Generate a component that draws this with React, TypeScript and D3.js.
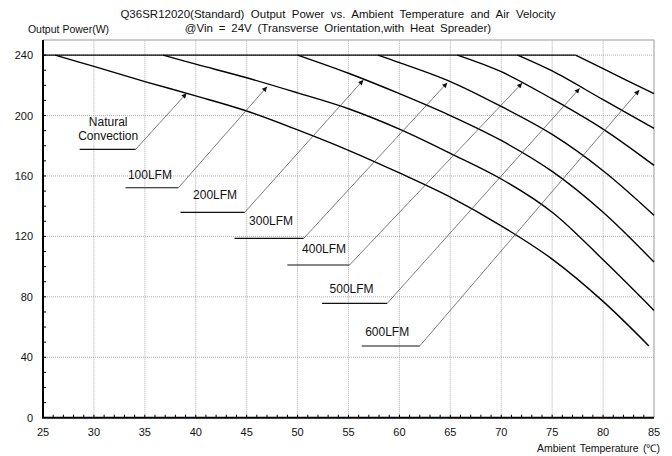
import React, { useEffect, useRef } from 'react';
import * as d3 from 'd3';

// derating curves, [ambient temp (°C), output power (W)]
const natural: [number, number][] = [[26.2, 240], [30, 232.5], [35, 222.5], [40, 213], [45, 203], [50, 190.5], [55, 177], [60, 162], [65, 146], [70, 127], [75, 105], [80, 77], [84.5, 47.5]];
const lfm100: [number, number][] = [[36.8, 240], [40, 234], [45, 225], [50, 215], [55, 204.5], [60, 191], [65, 175], [70, 158], [75, 136], [80, 104.5], [85, 71]];
const lfm200: [number, number][] = [[50, 240], [55, 228], [60, 214.5], [65, 200], [70, 183.5], [75, 163], [80, 136], [85, 103]];
const lfm300: [number, number][] = [[57.9, 240], [60, 235], [65, 222.5], [70, 206], [75, 187.5], [80, 163.5], [85, 134]];
const lfm400: [number, number][] = [[65.7, 240], [70, 229], [75, 211], [80, 191], [85, 167]];
const lfm500: [number, number][] = [[71.6, 240], [75, 229.5], [80, 210.5], [85, 191.5]];
const lfm600: [number, number][] = [[77.3, 240], [80, 231], [85, 214.5]];
const series = [natural, lfm100, lfm200, lfm300, lfm400, lfm500, lfm600];

const maxPower = 240;
const xTicks = [25, 30, 35, 40, 45, 50, 55, 60, 65, 70, 75, 80, 85];
const yTicks = [0, 40, 80, 120, 160, 200, 240];

// labels: text position, underline start/end, arrow tip (data units)
const labelText = [['Natural', 'Convection'], ['100LFM'], ['200LFM'], ['300LFM'], ['400LFM'], ['500LFM'], ['600LFM']];
const labelPos: [number, number][] = [[31.4, 191], [35.5, 160.5], [41.9, 147.4], [47.4, 130.4], [52.6, 111.4], [55.3, 85.2], [58.8, 56.9]];
const underline: [number, number, number][] = [[28.6, 34.1, 177.6], [33.1, 38.3, 152.2], [38.5, 44.8, 135.9], [43.8, 50.6, 118.7], [49.0, 55.1, 101.1], [52.4, 58.8, 75.7], [56.3, 62.0, 47.5]];
const arrowTip: [number, number][] = [[39.1, 214.7], [47.0, 219.1], [56.45, 223.5], [64.7, 221.7], [72.05, 221.5], [77.7, 218], [83.55, 216.9]];

const W = 672;
const H = 456;
const font = '"Liberation Sans", Arial, sans-serif';

const App: React.FC = () => {
  const svgRef = useRef<SVGSVGElement>(null);

  useEffect(() => {
    if (!svgRef.current) return;
    const svg = d3.select(svgRef.current);
    svg.selectAll('*').remove();

    svg.append('rect').attr('width', W).attr('height', H).attr('fill', 'white');

    const x = d3.scaleLinear().domain([25, 85]).range([43, 654]);
    const y = d3.scaleLinear().domain([0, 250]).range([417.7, 40]);

    svg.append('defs').append('marker')
      .attr('id', 'tip')
      .attr('viewBox', '0 0 10 10')
      .attr('refX', 10).attr('refY', 5)
      .attr('markerWidth', 7).attr('markerHeight', 5)
      .attr('markerUnits', 'userSpaceOnUse')
      .attr('orient', 'auto')
      .append('path').attr('d', 'M0,0L10,5L0,10z').attr('fill', '#111');

    // grid
    const grid = svg.append('g').attr('stroke', '#999').attr('stroke-width', 0.8).attr('stroke-dasharray', '1,1');
    grid.selectAll('line.v').data(xTicks.slice(1, -1)).join('line')
      .attr('x1', d => x(d)).attr('x2', d => x(d)).attr('y1', y(0)).attr('y2', y(250));
    grid.selectAll('line.h').data(yTicks.slice(1)).join('line')
      .attr('x1', x(25)).attr('x2', x(85)).attr('y1', d => y(d)).attr('y2', d => y(d));

    // frame top / right
    svg.append('path')
      .attr('d', `M${x(25)},${y(250)}H${x(85)}V${y(0)}`)
      .attr('fill', 'none').attr('stroke', '#999').attr('stroke-width', 1);

    // minor ticks
    const minor = svg.append('g').attr('stroke', '#000').attr('stroke-width', 1);
    minor.selectAll('line.mx').data(d3.range(26, 85, 1)).join('line')
      .attr('x1', d => x(d)).attr('x2', d => x(d)).attr('y1', y(0)).attr('y2', y(0) - 3);
    minor.selectAll('line.my').data(d3.range(10, 250, 10)).join('line')
      .attr('x1', x(25)).attr('x2', x(25) + 3).attr('y1', d => y(d)).attr('y2', d => y(d));

    // main axes
    svg.append('path')
      .attr('d', `M${x(25)},${y(250)}V${y(0)}H${x(85)}`)
      .attr('fill', 'none').attr('stroke', '#000').attr('stroke-width', 2);

    const axisText = svg.append('g').attr('font-family', font).attr('font-size', 11).attr('fill', '#111');
    axisText.selectAll('text.x').data(xTicks).join('text')
      .attr('x', d => x(d)).attr('y', 436).attr('text-anchor', 'middle').text(d => d);
    axisText.selectAll('text.y').data(yTicks).join('text')
      .attr('x', 33).attr('y', d => y(d) + 4).attr('text-anchor', 'end').text(d => d);

    axisText.append('text').attr('x', 660).attr('y', 452).attr('text-anchor', 'end').attr('font-size', 10.5)
      .attr('word-spacing', 1.5)
      .text('Ambient Temperature (℃)');
    axisText.append('text').attr('x', 68.5).attr('y', 33).attr('text-anchor', 'middle').attr('font-size', 10.5)
      .text('Output Power(W)');
    axisText.append('text').attr('x', 338).attr('y', 18).attr('text-anchor', 'middle').attr('font-size', 11.5)
      .attr('word-spacing', 3.2)
      .text('Q36SR12020(Standard) Output Power vs. Ambient Temperature and Air Velocity');
    axisText.append('text').attr('x', 338).attr('y', 32).attr('text-anchor', 'middle').attr('font-size', 11.5)
      .attr('word-spacing', 2.6)
      .text('@Vin = 24V (Transverse Orientation,with Heat Spreader)');

    // curves
    const flatEnd = d3.max(series, s => s[0][0]) as number;
    svg.append('line')
      .attr('x1', x(25)).attr('x2', x(flatEnd)).attr('y1', y(maxPower)).attr('y2', y(maxPower))
      .attr('stroke', '#000').attr('stroke-width', 1.4);

    const line = d3.line<[number, number]>()
      .x(d => x(d[0]))
      .y(d => y(d[1]))
      .curve(d3.curveCatmullRom.alpha(0.5));

    svg.append('g').selectAll('path').data(series).join('path')
      .attr('d', d => line(d))
      .attr('fill', 'none').attr('stroke', '#000').attr('stroke-width', 1.4);

    // annotations
    const ann = svg.append('g');
    labelText.forEach((t, i) => {
      const [ux1, ux2, uy] = underline[i];
      ann.append('line')
        .attr('x1', x(ux1)).attr('x2', x(ux2)).attr('y1', y(uy)).attr('y2', y(uy))
        .attr('stroke', '#111').attr('stroke-width', 1.1);
      ann.append('line')
        .attr('x1', x(ux2)).attr('y1', y(uy))
        .attr('x2', x(arrowTip[i][0])).attr('y2', y(arrowTip[i][1]))
        .attr('stroke', '#444').attr('stroke-width', 0.7)
        .attr('marker-end', 'url(#tip)');
      const txt = ann.append('text')
        .attr('font-family', font).attr('font-size', 12).attr('fill', '#111')
        .attr('text-anchor', 'middle');
      const lh = 14;
      t.forEach((s, j) => {
        txt.append('tspan')
          .attr('x', x(labelPos[i][0]))
          .attr('y', y(labelPos[i][1]) + 4 + (j - (t.length - 1) / 2) * lh)
          .text(s);
      });
    });
  }, []);

  return (
    <div style={{ position: 'absolute', left: 0, top: 0 }}>
      <svg ref={svgRef} width={W} height={H} style={{ display: 'block' }} />
    </div>
  );
};

export default App;
